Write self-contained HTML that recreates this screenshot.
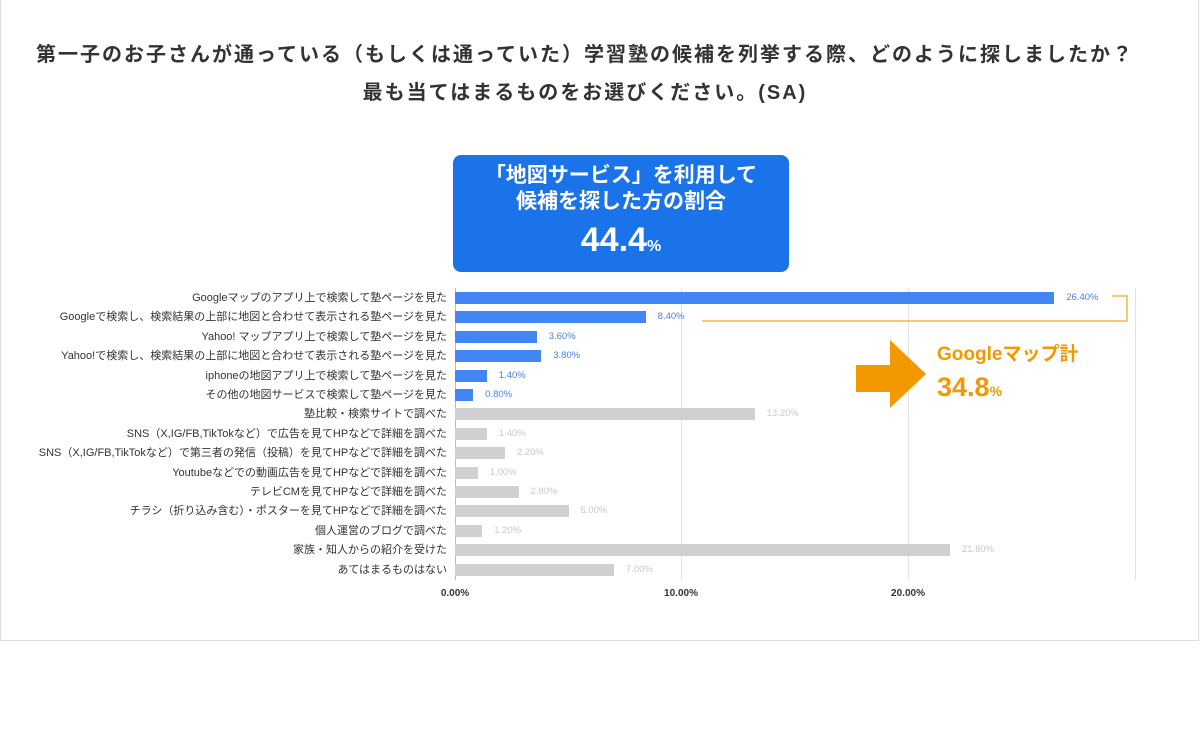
<!DOCTYPE html>
<html><head><meta charset="utf-8"><style>
body{margin:0;width:1200px;height:750px;background:#fff;font-family:"Liberation Sans","Noto Sans CJK JP",sans-serif;position:relative;overflow:hidden}
.frame{position:absolute;left:0;top:0;width:1197px;height:640px;border:1px solid #ddd;border-top:none;border-left:1px solid #ddd}
.t{position:absolute;left:0;width:1170px;text-align:center;font-weight:bold;font-size:20px;letter-spacing:2px;color:#333}
.box{position:absolute;left:453px;top:155px;width:336px;height:117px;background:#1a73e8;border-radius:8px;color:#fff;text-align:center;font-weight:bold}
.lab{position:absolute;right:753px;font-size:11px;color:#333;white-space:nowrap;line-height:12px}
.bar{position:absolute;left:455px;height:12px}
.v{position:absolute;font-size:9.5px;line-height:12px}
.grid{position:absolute;top:288px;height:292px;width:1px;background:#e3e3e3}
.tick{position:absolute;top:588px;font-size:10px;font-weight:bold;color:#333;transform:translateX(-50%)}
</style></head><body>
<div class="frame"></div>
<div class="t" style="top:38px">第一子のお子さんが通っている（もしくは通っていた）学習塾の候補を列挙する際、どのように探しましたか？</div>
<div class="t" style="top:76px">最も当てはまるものをお選びください。(SA)</div>
<div class="box"><div style="font-size:21px;margin-top:8px;line-height:26px">「地図サービス」を利用して<br>候補を探した方の割合</div><div style="font-size:34px;margin-top:6px">44.4<span style="font-size:16px">%</span></div></div>
<div class="grid" style="left:455px;background:#bbb"></div>
<div class="grid" style="left:681px"></div>
<div class="grid" style="left:908px"></div>
<div class="grid" style="left:1135px"></div>
<div id="rows"></div>
<div class="tick" style="left:455px">0.00%</div>
<div class="tick" style="left:681px">10.00%</div>
<div class="tick" style="left:908px">20.00%</div>
<svg style="position:absolute;left:0;top:0" width="1200" height="750">
<polyline points="1112,296 1127,296 1127,321 702,321" fill="none" stroke="#f0b848" stroke-width="1.5"/>
<polygon points="856,365 890,365 890,340 926,374 890,408 890,392 856,392" fill="#f39800"/>
<text x="937" y="360" font-size="19" font-weight="bold" fill="#f39800" font-family="Liberation Sans,Noto Sans CJK JP,sans-serif">Googleマップ計</text>
<text x="937" y="396" font-size="27" font-weight="bold" fill="#f39800" font-family="Liberation Sans,sans-serif">34.8<tspan font-size="14">%</tspan></text>
</svg>
<script>
var d=[["Googleマップのアプリ上で検索して塾ページを見た",26.4,1],["Googleで検索し、検索結果の上部に地図と合わせて表示される塾ページを見た",8.4,1],["Yahoo! マップアプリ上で検索して塾ページを見た",3.6,1],["Yahoo!で検索し、検索結果の上部に地図と合わせて表示される塾ページを見た",3.8,1],["iphoneの地図アプリ上で検索して塾ページを見た",1.4,1],["その他の地図サービスで検索して塾ページを見た",0.8,1],["塾比較・検索サイトで調べた",13.2,0],["SNS（X,IG/FB,TikTokなど）で広告を見てHPなどで詳細を調べた",1.4,0],["SNS（X,IG/FB,TikTokなど）で第三者の発信（投稿）を見てHPなどで詳細を調べた",2.2,0],["Youtubeなどでの動画広告を見てHPなどで詳細を調べた",1.0,0],["テレビCMを見てHPなどで詳細を調べた",2.8,0],["チラシ（折り込み含む）・ポスターを見てHPなどで詳細を調べた",5.0,0],["個人運営のブログで調べた",1.2,0],["家族・知人からの紹介を受けた",21.8,0],["あてはまるものはない",7.0,0]];
var h="";d.forEach(function(r,i){var y=292+i*19.4;var w=r[1]*22.7;
h+='<div class="lab" style="top:'+(y)+'px">'+r[0]+'</div>';
h+='<div class="bar" style="top:'+y+'px;width:'+w+'px;background:'+(r[2]?'#4285f4':'#d0d0d0')+'"></div>';
h+='<div class="v" style="top:'+y+'px;left:'+(455+w+12)+'px;color:'+(r[2]?'#4a7fe0':'#c8c8c8')+'">'+r[1].toFixed(2)+'%</div>';});
document.getElementById("rows").innerHTML=h;
</script>
</body></html>
